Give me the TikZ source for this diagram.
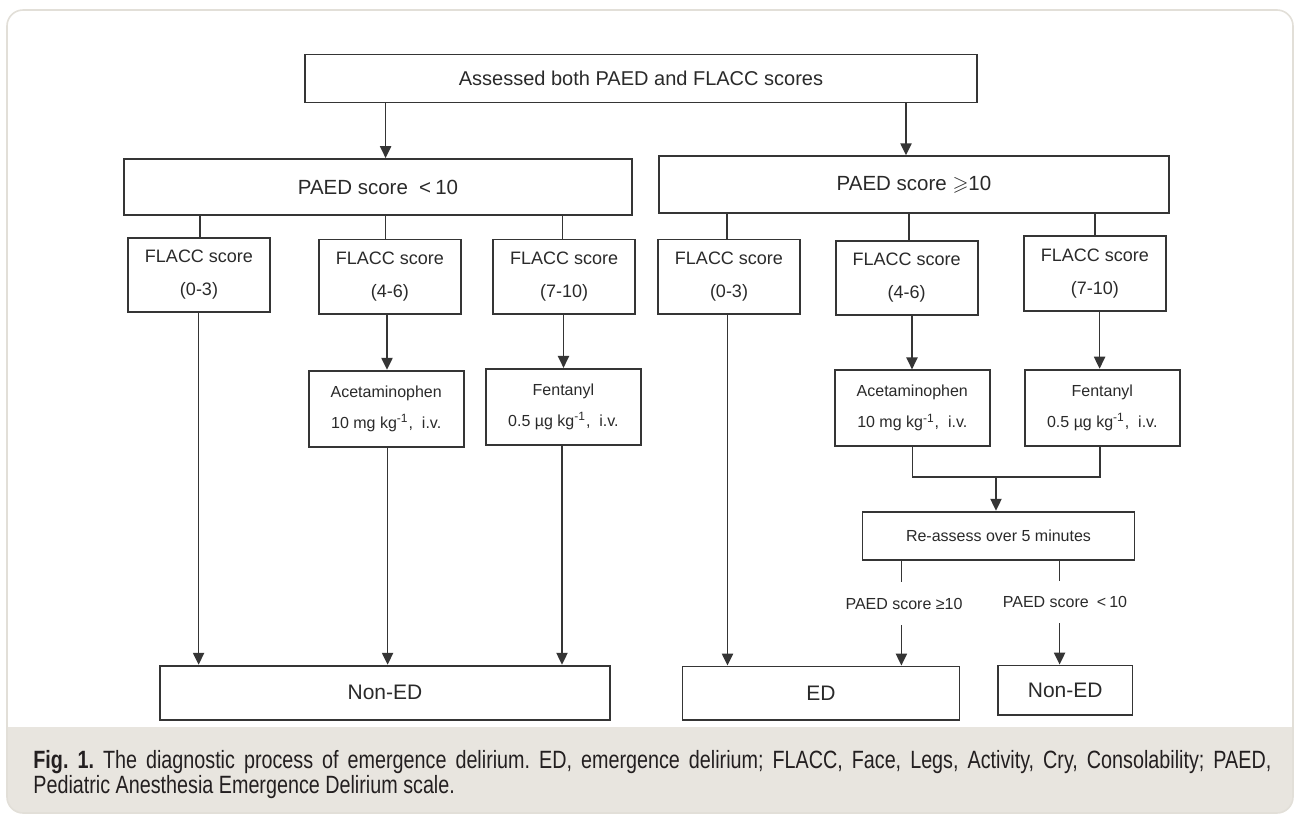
\documentclass[tikz,border=0pt]{standalone}
\usepackage{amssymb}
\usepackage{fontspec}
\setmainfont{Liberation Sans}
\newfontfamily\capfont[FakeStretch=0.79]{Liberation Sans}
\usetikzlibrary{arrows.meta}
\definecolor{frameline}{HTML}{E2DFD8}
\definecolor{capbg}{HTML}{E8E5DF}
\definecolor{boxline}{HTML}{353535}
\definecolor{boxtext}{HTML}{2A2A2A}
\definecolor{captext}{HTML}{231F20}
\frenchspacing
\begin{document}
\begin{tikzpicture}[x=0.5pt,y=-0.5pt,
  fbox/.style={draw=boxline, line width=0.9pt, inner sep=0pt, align=center, text=boxtext},
  big/.style={fbox, font=\fontsize{10pt}{12pt}\selectfont},
  flacc/.style={fbox, font=\fontsize{9pt}{16.5pt}\selectfont, minimum width=71pt, minimum height=37.3pt},
  drug/.style={fbox, font=\fontsize{8pt}{15.5pt}\selectfont, minimum width=77.6pt, minimum height=38pt},
  lbl/.style={inner sep=0pt, text=boxtext, font=\fontsize{8pt}{10pt}\selectfont},
  conn/.style={draw=boxline, line width=0.85pt},
  arr/.style={conn, -{Triangle[length=6pt,width=5.6pt]}}]
\useasboundingbox (0,0) rectangle (1298,815);
% frame and caption band
\begin{scope}
  \clip[rounded corners=8pt] (7,10) rectangle (1293,813);
  \fill[white] (7,10) rectangle (1293,813);
  \fill[capbg] (7,727) rectangle (1293,813);
\end{scope}
\draw[frameline, line width=0.8pt, rounded corners=8pt] (7,10) rectangle (1293,813);

% nodes
\node[big, minimum width=335.75pt, minimum height=24pt] (top) at (641,78.4) {Assessed both PAED and FLACC scores};
\node[big, font=\fontsize{10.25pt}{12pt}\selectfont, minimum width=254pt, minimum height=28pt] (pl) at (378,187) {PAED score\hspace{0.55em}<\hspace{0.2em}10};
\node[big, font=\fontsize{10.25pt}{12pt}\selectfont, minimum width=255pt, minimum height=28.5pt] (pr) at (914,184.7) {PAED score $\geqslant$10};

\node[flacc] (l1) at (199,275) {FLACC score\\(0-3)};
\node[flacc] (l2) at (389.8,276.7) {FLACC score\\(4-6)};
\node[flacc] (l3) at (564.2,276.7) {FLACC score\\(7-10)};
\node[flacc] (r1) at (729,276.7) {FLACC score\\(0-3)};
\node[flacc] (r2) at (906.6,278) {FLACC score\\(4-6)};
\node[flacc] (r3) at (1094.8,273.5) {FLACC score\\(7-10)};

\node[drug] (al) at (386.2,408.7) {Acetaminophen\\10 mg kg\textsuperscript{-1},\ \ i.v.};
\node[drug] (fl) at (563.4,406.8) {Fentanyl\\0.5 µg kg\textsuperscript{-1},\ \ i.v.};
\node[drug] (ar) at (912.3,408.3) {Acetaminophen\\10 mg kg\textsuperscript{-1},\ \ i.v.};
\node[drug] (fr) at (1102.3,407.6) {Fentanyl\\0.5 µg kg\textsuperscript{-1},\ \ i.v.};

\node[fbox, font=\fontsize{8pt}{10pt}\selectfont, minimum width=136pt, minimum height=24.15pt] (ra) at (998.5,535.8) {Re-assess over 5 minutes};
\node[lbl, minimum height=21.5pt] (lab1) at (904,603.5) {PAED score ≥10};
\node[lbl, minimum height=21pt] (lab2) at (1065,602) {PAED score\hspace{0.5em}<\hspace{0.2em}10};

\node[big, font=\fontsize{10.5pt}{12pt}\selectfont, minimum width=225pt, minimum height=27.15pt] (nl) at (385,692.8) {Non-ED};
\node[big, font=\fontsize{10.5pt}{12pt}\selectfont, minimum width=138.5pt, minimum height=26.75pt] (ed) at (821,693.2) {ED};
\node[big, font=\fontsize{10.5pt}{12pt}\selectfont, minimum width=67.25pt, minimum height=24.75pt] (nr) at (1065.2,690.2) {Non-ED};

% connectors
\draw[arr] (top.south -| 385.6,0) -- (pl.north -| 385.6,0);
\draw[arr] (top.south -| 906,0) -- (pr.north -| 906,0);
\draw[conn] (pl.south -| 200,0) -- (l1.north -| 200,0);
\draw[conn] (pl.south -| 385.6,0) -- (l2.north -| 385.6,0);
\draw[conn] (pl.south -| 562.6,0) -- (l3.north -| 562.6,0);
\draw[conn] (pr.south -| 726.8,0) -- (r1.north -| 726.8,0);
\draw[conn] (pr.south -| 909,0) -- (r2.north -| 909,0);
\draw[conn] (pr.south -| 1095,0) -- (r3.north -| 1095,0);

\draw[arr] (l1.south -| 198.6,0) -- (nl.north -| 198.6,0);
\draw[arr] (l2.south -| 387,0) -- (al.north -| 387,0);
\draw[arr] (al.south -| 387.6,0) -- (nl.north -| 387.6,0);
\draw[arr] (l3.south -| 563.5,0) -- (fl.north -| 563.5,0);
\draw[arr] (fl.south -| 562,0) -- (nl.north -| 562,0);
\draw[arr] (r1.south -| 727.5,0) -- (ed.north -| 727.5,0);
\draw[arr] (r2.south -| 912,0) -- (ar.north -| 912,0);
\draw[arr] (r3.south -| 1099.6,0) -- (fr.north -| 1099.6,0);

\coordinate (jl) at (912.5,476.7);
\coordinate (jr) at (1100,476.7);
\coordinate (jm) at (996,476.7);
\draw[conn] (ar.south -| jl) -- (jl) -- (jr) -- (fr.south -| jr);
\draw[arr] (jm) -- (ra.north -| jm);

\draw[conn] (ra.south -| 901.4,0) -- (lab1.north -| 901.4,0);
\draw[conn] (ra.south -| 1059.6,0) -- (lab2.north -| 1059.6,0);
\draw[arr] (lab1.south -| 901.4,0) -- (ed.north -| 901.4,0);
\draw[arr] (lab2.south -| 1059.6,0) -- (nr.north -| 1059.6,0);

% caption
\node[anchor=base west, inner sep=0pt, text=captext] (cap) at (33,768)
  {\parbox[t]{619pt}{\capfont\fontsize{12.5pt}{12.5pt}\selectfont\textbf{Fig. 1.} The diagnostic process of emergence delirium. ED, emergence delirium; FLACC, Face, Legs, Activity, Cry, Consolability; PAED,\linebreak Pediatric Anesthesia Emergence Delirium scale.}};
\end{tikzpicture}
\end{document}
